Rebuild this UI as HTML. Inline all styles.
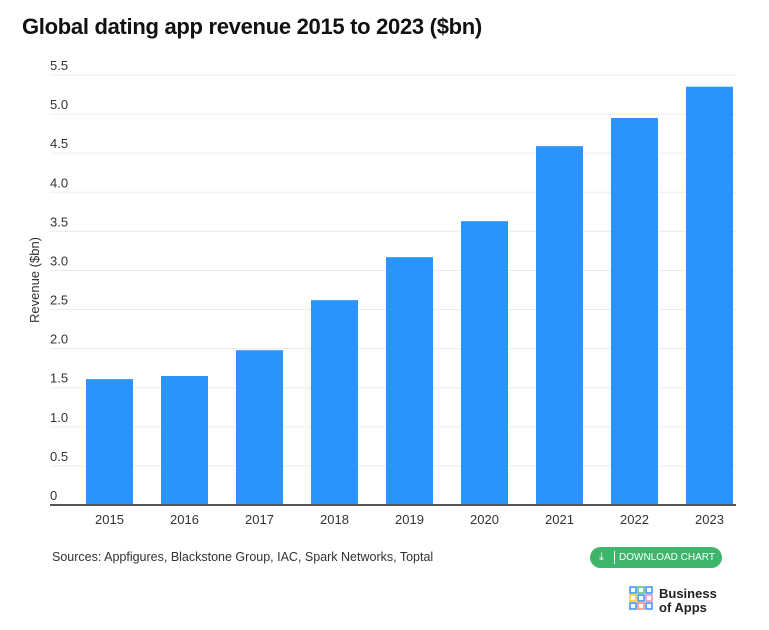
<!DOCTYPE html>
<html><head><meta charset="utf-8"><style>
body{margin:0;width:769px;height:630px;background:#fff;font-family:"Liberation Sans",sans-serif;overflow:hidden;position:relative}
#title{position:absolute;left:22px;top:14px;font-size:22px;font-weight:bold;color:#111;letter-spacing:-0.3px}
#src{position:absolute;left:52px;top:550px;font-size:12.5px;color:#333}
#dl{position:absolute;left:590px;top:547px;width:132px;height:21px;border-radius:11px;background:#3db56a;color:#fff;font-size:10px;line-height:21px}
#logo{position:absolute;left:629px;top:586px}
</style></head><body>
<div id="title">Global dating app revenue 2015 to 2023 ($bn)</div>
<svg id="chart" width="769" height="540" style="position:absolute;left:0;top:0"></svg>
<div id="src">Sources: Appfigures, Blackstone Group, IAC, Spark Networks, Toptal</div>
<div id="dl"><span style="position:absolute;left:9px;top:0;font-size:11px">⤓</span><span style="position:absolute;left:24px;top:4px;width:1px;height:13px;background:#fff"></span><span style="position:absolute;left:29px">DOWNLOAD CHART</span></div>
<div id="logo">
<svg width="100" height="30">
<g fill="none" stroke-width="1.5">
<rect x="1" y="1" width="6" height="6" stroke="#3b8ff5"/><rect x="9" y="1" width="6" height="6" stroke="#4bc08a"/><rect x="17" y="1" width="6" height="6" stroke="#3b8ff5"/>
<rect x="1" y="9" width="6" height="6" stroke="#f5c52b"/><rect x="9" y="9" width="6" height="6" stroke="#3b8ff5"/><rect x="17" y="9" width="6" height="6" stroke="#e68ab8"/>
<rect x="1" y="17" width="6" height="6" stroke="#3b8ff5"/><rect x="9" y="17" width="6" height="6" stroke="#f08a7a"/><rect x="17" y="17" width="6" height="6" stroke="#3b8ff5"/>
</g>
<text x="30" y="12" font-size="13" font-weight="bold" fill="#222" font-family="Liberation Sans, sans-serif">Business</text>
<text x="30" y="26" font-size="13" font-weight="bold" fill="#222" font-family="Liberation Sans, sans-serif">of Apps</text>
</svg></div>
<script>
const categories=["2015","2016","2017","2018","2019","2020","2021","2022","2023"];
const revenue=[1.61,1.65,1.98,2.62,3.17,3.63,4.59,4.95,5.35];
const yTicks=[0,0.5,1.0,1.5,2.0,2.5,3.0,3.5,4.0,4.5,5.0,5.5];
const yTickLabels=["0","0.5","1.0","1.5","2.0","2.5","3.0","3.5","4.0","4.5","5.0","5.5"];
const NS="http://www.w3.org/2000/svg";
const svg=document.getElementById('chart');
const x0=50,x1=736,y0=505,yTop=75,yMax=5.5;
const y=v=>y0-(v/yMax)*(y0-yTop);
const band=(x1-x0-11)/categories.length;
const xc=i=>x0+34+23.5+i*band+ (i*0);
function mk(t,a){const e=document.createElementNS(NS,t);for(const k in a)e.setAttribute(k,a[k]);svg.appendChild(e);return e;}
yTicks.forEach((v,i)=>{
 if(v>0){const l=mk('line',{x1:x0,x2:x1,y1:y(v),y2:y(v),stroke:'#ececec','stroke-width':1});
 
 }
 const t=mk('text',{x:x0,y:y(v)-5,'font-size':13,fill:'#333','font-family':'Liberation Sans, sans-serif'});
 t.textContent=yTickLabels[i];
 
 
});
const bw=47,pitch=75;
categories.forEach((c,i)=>{
 const cx=109.5+i*pitch;
 const r=mk('rect',{x:cx-bw/2,y:y(revenue[i]),width:bw,height:y0-y(revenue[i]),fill:'#2a94fc'});
 
 
 const t=mk('text',{x:cx,y:524,'font-size':13,fill:'#333','text-anchor':'middle','font-family':'Liberation Sans, sans-serif'});
 t.textContent=c;
 
 
});
const ax=mk('line',{x1:x0,x2:x1,y1:y0,y2:y0,stroke:'#555','stroke-width':2});


const yt=mk('text',{x:0,y:0,'font-size':13,fill:'#333','text-anchor':'middle','font-family':'Liberation Sans, sans-serif',transform:'translate(39,280) rotate(-90)'});
yt.textContent='Revenue ($bn)';


</script>
</body></html>
